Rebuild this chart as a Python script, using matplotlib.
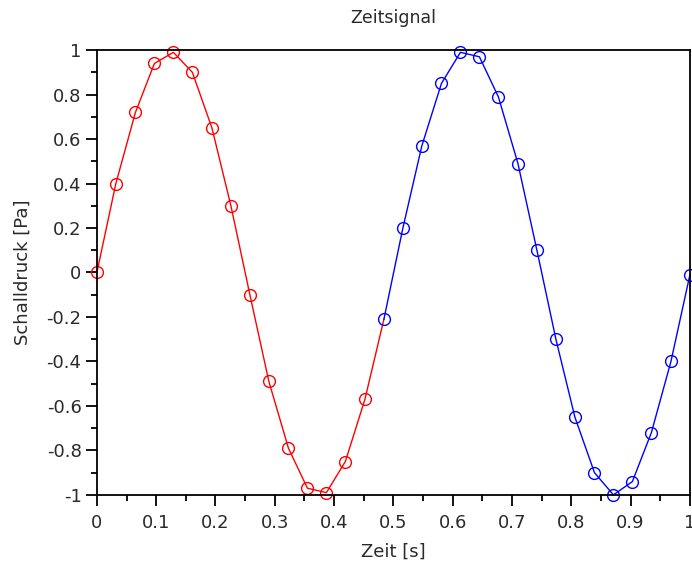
import matplotlib
matplotlib.use('Agg')
import matplotlib.pyplot as plt
from matplotlib.ticker import MultipleLocator

plt.rcParams['font.family'] = ['DejaVu Sans']

t_red = [0.0, 0.032, 0.065, 0.097, 0.129, 0.161, 0.194, 0.226, 0.258, 0.290,
         0.323, 0.355, 0.387, 0.419, 0.452, 0.484]
p_red = [0.0, 0.40, 0.72, 0.94, 0.99, 0.90, 0.65, 0.30, -0.10, -0.49,
         -0.79, -0.97, -0.99, -0.85, -0.57, -0.21]
t_blue = [0.484, 0.516, 0.548, 0.581, 0.613, 0.645, 0.677, 0.710, 0.742, 0.774,
          0.806, 0.839, 0.871, 0.903, 0.935, 0.968, 1.0]
p_blue = [-0.21, 0.20, 0.57, 0.85, 0.99, 0.97, 0.79, 0.49, 0.10, -0.30,
          -0.65, -0.90, -1.0, -0.94, -0.72, -0.40, -0.01]

txtcol = '#2a2a2a'
fs = 12.5

fig = plt.figure(figsize=(6.92, 5.63), dpi=100)
ax = fig.add_axes([0.140, 0.121, 0.857, 0.790])

ax.plot(t_red, p_red, color='#ff0000', lw=1.0, marker='o', ms=8.5, mfc='none',
        mew=1.0, markevery=list(range(len(t_red) - 1)), clip_on=False)
ax.plot(t_blue, p_blue, color='#0000ff', lw=1.0, marker='o', ms=8.5, mfc='none',
        mew=1.0, clip_on=False)

ax.set_xlim(0, 1)
ax.set_ylim(-1, 1)
ax.xaxis.set_major_locator(MultipleLocator(0.1))
ax.xaxis.set_minor_locator(MultipleLocator(0.05))
ax.yaxis.set_major_locator(MultipleLocator(0.2))
ax.yaxis.set_minor_locator(MultipleLocator(0.1))
ax.xaxis.set_major_formatter(plt.FuncFormatter(lambda v, p: '%g' % round(v, 2)))
ax.yaxis.set_major_formatter(plt.FuncFormatter(lambda v, p: '%g' % round(v, 2)))
ax.tick_params(which='major', direction='out', length=8, width=1.3, labelsize=13,
               colors='black', labelcolor=txtcol)
ax.tick_params(axis='x', which='major', pad=6)
ax.tick_params(axis='y', which='major', pad=3)
ax.tick_params(which='minor', direction='out', length=4, width=1.3)
for s in ax.spines.values():
    s.set_linewidth(1.3)

ax.set_xlabel('Zeit [s]', fontsize=13, color=txtcol)
ax.set_ylabel('Schalldruck [Pa]', fontsize=13, color=txtcol)
ax.xaxis.set_label_coords(0.5, -0.108)
ax.yaxis.set_label_coords(-0.110, 0.5)
ax.text(0.5, 1.072, 'Zeitsignal', transform=ax.transAxes, ha='center', va='center',
        fontsize=fs, color=txtcol)

fig.savefig('out.png', dpi=100)
